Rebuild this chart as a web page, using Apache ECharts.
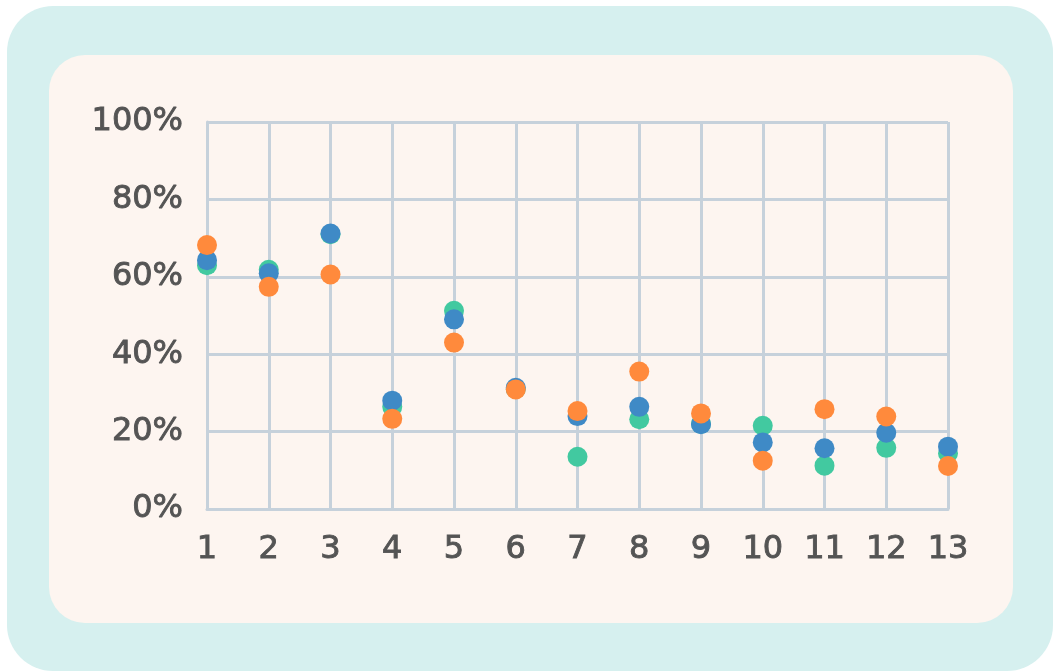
<!DOCTYPE html>
<html>
<head>
<meta charset="utf-8">
<script src="https://cdn.jsdelivr.net/npm/echarts@6/dist/echarts.min.js"></script>
<style>
  html, body { margin: 0; padding: 0; background: #ffffff; }
  #chart { width: 1053px; height: 671px; }
</style>
</head>
<body>
<div id="chart"></div>
<script>
// Categories along the x axis
const categories = ['1', '2', '3', '4', '5', '6', '7', '8', '9', '10', '11', '12', '13'];

// Three series of shares (percent)
const greenValues  = [63.0, 61.8, 71.0, 26.4, 51.2, 31.0, 13.5, 23.2, 22.0, 21.5, 11.2, 15.8, 14.4];
const blueValues   = [64.3, 60.9, 71.2, 28.0, 49.0, 31.3, 24.0, 26.4, 21.9, 17.2, 15.7, 19.7, 16.1];
const orangeValues = [68.2, 57.4, 60.6, 23.3, 43.0, 30.9, 25.3, 35.5, 24.7, 12.5, 25.8, 23.9, 11.1];

// Y axis ticks
const yTicks = [0, 20, 40, 60, 80, 100];

const gridColor = '#c6d1db';
const labelColor = '#545454';
const fontFamily = 'DejaVu Sans';

const chart = echarts.init(document.getElementById('chart'), null, { renderer: 'canvas' });

function dotSeries(name, data, color) {
  return {
    name: name,
    type: 'scatter',
    data: data,
    symbol: 'circle',
    symbolSize: 20,
    itemStyle: { color: color, opacity: 1 },
    emphasis: { disabled: true }
  };
}

const labelStyle = {
  color: labelColor,
  fontSize: 32,
  fontFamily: fontFamily,
  textBorderColor: labelColor,
  textBorderWidth: 0.9
};

chart.setOption({
  animation: false,
  backgroundColor: '#ffffff',
  graphic: [
    {
      type: 'rect',
      z: -10,
      shape: { x: 7, y: 6, width: 1046, height: 665, r: 46 },
      style: { fill: '#d6f0ef' },
      silent: true
    },
    {
      type: 'rect',
      z: -9,
      shape: { x: 49, y: 55, width: 964, height: 568, r: 36 },
      style: { fill: '#fdf5f0' },
      silent: true
    }
  ],
  grid: { left: 207, right: 105, top: 122, bottom: 162, containLabel: false },
  xAxis: {
    type: 'category',
    data: categories,
    boundaryGap: false,
    axisLine: { show: true, lineStyle: { color: gridColor, width: 3 } },
    axisTick: { show: false },
    splitLine: { show: true, lineStyle: { color: gridColor, width: 3 } },
    axisLabel: Object.assign({ margin: 25 }, labelStyle)
  },
  yAxis: {
    type: 'value',
    min: yTicks[0],
    max: yTicks[yTicks.length - 1],
    interval: 20,
    axisLine: { show: true, lineStyle: { color: gridColor, width: 3 } },
    axisTick: { show: false },
    splitLine: { show: true, lineStyle: { color: gridColor, width: 3 } },
    axisLabel: Object.assign({ margin: 24, formatter: v => v + '%' }, labelStyle)
  },
  series: [
    dotSeries('green', greenValues, '#42c9a0'),
    dotSeries('blue', blueValues, '#3f8ac6'),
    dotSeries('orange', orangeValues, '#ff8a3c')
  ]
});
</script>
</body>
</html>
